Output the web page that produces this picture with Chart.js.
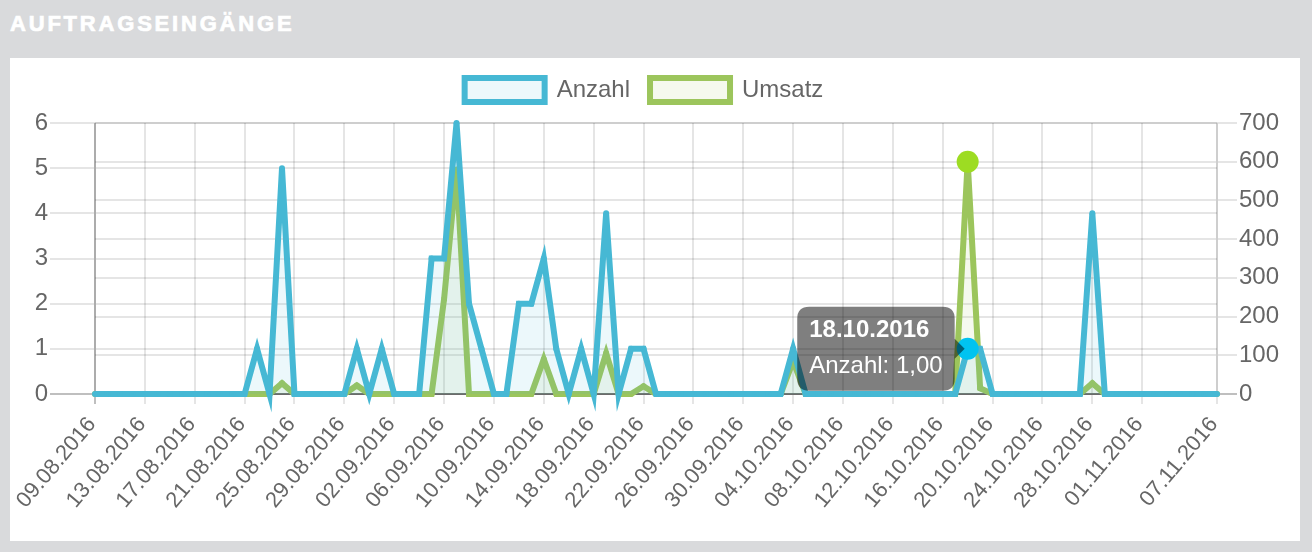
<!DOCTYPE html>
<html>
<head>
<meta charset="utf-8">
<script src="https://cdn.jsdelivr.net/npm/chart.js@4.4.0/dist/chart.umd.min.js"></script>
<style>
  html, body { margin: 0; padding: 0; }
  body { width: 1312px; height: 552px; background: #d9dadc; position: relative; overflow: hidden; }
  h2 {
    position: absolute; left: 10px; top: 12px; margin: 0;
    color: #fff; font: bold 22px 'Liberation Sans', Arial, sans-serif; line-height: 24px; letter-spacing: 2.8px;
    -webkit-text-stroke: 0.7px #fff;
  }
  .panel { position: absolute; left: 10px; top: 58px; width: 1290px; height: 483px; background: #fff; }
</style>
</head>
<body>
<h2>AUFTRAGSEINGÄNGE</h2>
<div class="panel"><canvas id="orders"></canvas></div>
<script>
// one entry per day, 09.08.2016 - 07.11.2016
var days = [
  '09.08.2016','10.08.2016','11.08.2016','12.08.2016','13.08.2016','14.08.2016','15.08.2016','16.08.2016',
  '17.08.2016','18.08.2016','19.08.2016','20.08.2016','21.08.2016','22.08.2016','23.08.2016','24.08.2016',
  '25.08.2016','26.08.2016','27.08.2016','28.08.2016','29.08.2016','30.08.2016','31.08.2016',
  '01.09.2016','02.09.2016','03.09.2016','04.09.2016','05.09.2016','06.09.2016','07.09.2016','08.09.2016',
  '09.09.2016','10.09.2016','11.09.2016','12.09.2016','13.09.2016','14.09.2016','15.09.2016','16.09.2016',
  '17.09.2016','18.09.2016','19.09.2016','20.09.2016','21.09.2016','22.09.2016','23.09.2016','24.09.2016',
  '25.09.2016','26.09.2016','27.09.2016','28.09.2016','29.09.2016','30.09.2016',
  '01.10.2016','02.10.2016','03.10.2016','04.10.2016','05.10.2016','06.10.2016','07.10.2016','08.10.2016',
  '09.10.2016','10.10.2016','11.10.2016','12.10.2016','13.10.2016','14.10.2016','15.10.2016','16.10.2016',
  '17.10.2016','18.10.2016','19.10.2016','20.10.2016','21.10.2016','22.10.2016','23.10.2016','24.10.2016',
  '25.10.2016','26.10.2016','27.10.2016','28.10.2016','29.10.2016','30.10.2016','31.10.2016',
  '01.11.2016','02.11.2016','03.11.2016','04.11.2016','05.11.2016','06.11.2016','07.11.2016'
];

var anzahl = [
  0, 0, 0, 0, 0, 0, 0, 0, 0, 0,
  0, 0, 0, 1, 0, 5, 0, 0, 0, 0,
  0, 1, 0, 1, 0, 0, 0, 3, 3, 6,
  2, 1, 0, 0, 2, 2, 3, 1, 0, 1,
  0, 4, 0, 1, 1, 0, 0, 0, 0, 0,
  0, 0, 0, 0, 0, 0, 1, 0, 0, 0,
  0, 0, 0, 0, 0, 0, 0, 0, 0, 0,
  1, 1, 0, 0, 0, 0, 0, 0, 0, 0,
  4, 0, 0, 0, 0, 0, 0, 0, 0, 0,
  0
];

var umsatz = [
  0, 0, 0, 0, 0, 0, 0, 0, 0, 0,
  0, 0, 0, 0, 0, 28, 0, 0, 0, 0,
  0, 22, 0, 0, 0, 0, 0, 0, 245, 580,
  0, 0, 0, 0, 0, 0, 90, 0, 0, 0,
  0, 105, 0, 0, 20, 0, 0, 0, 0, 0,
  0, 0, 0, 0, 0, 0, 85, 0, 0, 0,
  0, 0, 0, 0, 0, 0, 0, 0, 0, 0,
  600, 15, 0, 0, 0, 0, 0, 0, 0, 0,
  28, 0, 0, 0, 0, 0, 0, 0, 0, 0,
  0
];

var shownTicks = [
  '09.08.2016','13.08.2016','17.08.2016','21.08.2016','25.08.2016','29.08.2016',
  '02.09.2016','06.09.2016','10.09.2016','14.09.2016','18.09.2016','22.09.2016',
  '26.09.2016','30.09.2016','04.10.2016','08.10.2016','12.10.2016','16.10.2016',
  '20.10.2016','24.10.2016','28.10.2016','01.11.2016','07.11.2016'
];

var hoveredDay = '18.10.2016';

Chart.defaults.font.family = "'Liberation Sans', Arial, sans-serif";
Chart.defaults.color = '#666';

var gridColor = 'rgba(0,0,0,0.1)';
var zeroColor = 'rgba(0,0,0,0.25)';

// legend sits a bit left of centre and leaves more room above the plot
var legendTweak = {
  id: 'legendTweak',
  beforeLayout: function (chart) {
    var lg = chart.legend;
    if (lg && !lg._tweaked) {
      var fit = lg.fit;
      lg.fit = function () { fit.call(this); this.height += 11; };
      lg._tweaked = true;
    }
  },
  afterLayout: function (chart) {
    chart.legend.left -= 11;
    chart.legend.right -= 11;
  }
};

var chart = new Chart(document.getElementById('orders'), {
  type: 'line',
  data: {
    labels: days,
    datasets: [{
      label: 'Anzahl',
      yAxisID: 'yCount',
      data: anzahl,
      borderColor: '#46b8d4',
      backgroundColor: 'rgba(70,184,212,0.1)',
      borderWidth: 6,
      fill: 'origin',
      tension: 0,
      clip: false,
      pointRadius: 2,
      pointBorderWidth: 2,
      pointBackgroundColor: '#46b8d4',
      pointBorderColor: '#46b8d4',
      pointHoverRadius: 11,
      pointHoverBorderWidth: 0,
      pointHoverBackgroundColor: '#00c3f0'
    }, {
      label: 'Umsatz',
      yAxisID: 'yAmount',
      data: umsatz,
      borderColor: '#9cc55c',
      backgroundColor: 'rgba(156,197,92,0.1)',
      borderWidth: 6,
      fill: 'origin',
      tension: 0,
      clip: false,
      pointRadius: 2,
      pointBorderWidth: 2,
      pointBackgroundColor: '#9cc55c',
      pointBorderColor: '#9cc55c',
      pointHoverRadius: 11,
      pointHoverBorderWidth: 0,
      pointHoverBackgroundColor: '#9ddc22'
    }]
  },
  options: {
    responsive: true,
    maintainAspectRatio: false,
    animation: false,
    layout: { padding: 0 },
    plugins: {
      legend: {
        labels: {
          boxWidth: 80,
          boxHeight: 24,
          padding: 20,
          color: '#666',
          font: { size: 24 }
        }
      },
      tooltip: {
        backgroundColor: 'rgba(0,0,0,0.5)',
        titleColor: '#fff',
        bodyColor: '#fff',
        titleFont: { size: 24, weight: 'bold', lineHeight: 1 },
        bodyFont: { size: 24, lineHeight: 1 },
        titleMarginBottom: 12,
        padding: 12,
        caretSize: 10,
        caretPadding: 3,
        cornerRadius: 12,
        displayColors: false,
        callbacks: {
          label: function (c) {
            return c.dataset.label + ': ' + c.parsed.y.toFixed(2).replace('.', ',');
          }
        }
      }
    },
    scales: {
      x: {
        afterFit: function (s) { s.height = 147; },
        grid: {
          lineWidth: 2,
          tickLength: 10,
          color: function (c) { return c.index === 0 ? zeroColor : gridColor; }
        },
        border: { color: zeroColor, width: 2 },
        ticks: {
          autoSkip: false,
          minRotation: 50,
          maxRotation: 50,
          padding: 8,
          labelOffset: -3,
          font: { size: 22 },
          callback: function (value) {
            var l = this.getLabelForValue(value);
            return shownTicks.indexOf(l) >= 0 ? l : null;
          }
        }
      },
      yCount: {
        position: 'left',
        min: 0,
        max: 6,
        afterFit: function (s) { s.width = 85; },
        grid: {
          lineWidth: 2,
          tickLength: 45,
          color: function (c) { return c.tick && c.tick.value === 0 ? zeroColor : gridColor; }
        },
        border: { color: gridColor, width: 2 },
        ticks: { stepSize: 1, padding: 2, font: { size: 24 } }
      },
      yAmount: {
        position: 'right',
        min: 0,
        max: 700,
        afterFit: function (s) { s.width = 83; },
        grid: {
          lineWidth: 2,
          tickLength: 20,
          color: function (c) { return c.tick && c.tick.value === 0 ? zeroColor : gridColor; }
        },
        border: { color: gridColor, width: 2 },
        ticks: { stepSize: 100, padding: 2, font: { size: 24 } }
      }
    }
  },
  plugins: [legendTweak]
});

var hi = days.indexOf(hoveredDay);
chart.setActiveElements([{ datasetIndex: 0, index: hi }, { datasetIndex: 1, index: hi }]);
chart.tooltip.setActiveElements([{ datasetIndex: 0, index: hi }], { x: 0, y: 0 });
chart.update();
</script>
</body>
</html>
